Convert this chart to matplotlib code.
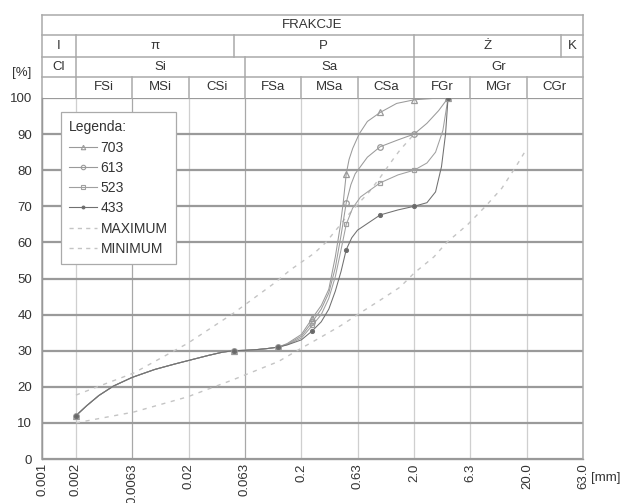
import matplotlib
matplotlib.use('Agg')
import matplotlib.pyplot as plt
from matplotlib.lines import Line2D
import numpy as np

plt.rcParams['font.family'] = ['Liberation Sans', 'DejaVu Sans']

#### Axis / header data ####
x_ticks = [0.001, 0.002, 0.0063, 0.02, 0.063, 0.2, 0.63, 2.0, 6.3, 20.0, 63.0]
x_labels = ['0.001', '0.002', '0.0063', '0.02', '0.063', '0.2', '0.63', '2.0', '6.3', '20.0', '63.0']
y_ticks = [0, 10, 20, 30, 40, 50, 60, 70, 80, 90, 100]

pl_edges = [0.001, 0.002, 0.05, 2.0, 40.0, 63.0]
pl_names = ['I', 'π', 'P', 'Ż', 'K']
iso_edges = [0.001, 0.002, 0.063, 2.0, 63.0]
iso_names = ['Cl', 'Si', 'Sa', 'Gr']
sub_names = ['', 'FSi', 'MSi', 'CSi', 'FSa', 'MSa', 'CSa', 'FGr', 'MGr', 'CGr']

#### Sieve results ####
sieve_d = [0.002, 0.05, 0.125, 0.25, 0.5, 1.0, 2.0, 4.0]
p703 = [12, 30, 31, 39, 79, 96, 99.5, 100]
p613 = [12, 30, 31, 38, 71, 86.5, 90, 100]
p523 = [12, 30, 31, 37, 65, 76.5, 80, 100]
p433 = [12, 30, 31, 35.5, 58, 67.6, 70, 100]

#### Curve traces ####
fine_d = [0.002, 0.0025, 0.0032, 0.0043, 0.0063, 0.01, 0.015, 0.02, 0.03, 0.04, 0.05, 0.063, 0.08, 0.1, 0.125]
fine_p = [12, 14.8, 17.6, 20.2, 22.6, 24.8, 26.3, 27.3, 28.7, 29.6, 30, 30.1, 30.3, 30.6, 31]

t703_d = [0.15, 0.2, 0.25, 0.3, 0.35, 0.4, 0.44, 0.47, 0.5, 0.53, 0.57, 0.65, 0.77, 1.0, 1.4, 2.0, 3.0, 4.0]
t703_p = [32, 34.5, 39, 42.5, 47, 56, 64, 71, 79, 83, 86, 90, 93.5, 96, 98.5, 99.5, 99.9, 100]
t613_d = [0.15, 0.2, 0.25, 0.3, 0.35, 0.4, 0.45, 0.5, 0.55, 0.6, 0.77, 1.0, 1.44, 2.0, 2.6, 3.3, 4.0]
t613_p = [31.8, 34, 38, 41.5, 46, 53, 62, 71, 76, 79, 83.6, 86.5, 88.4, 90, 93, 96.5, 100]
t523_d = [0.15, 0.2, 0.25, 0.3, 0.35, 0.4, 0.45, 0.5, 0.57, 0.67, 1.0, 1.44, 2.0, 2.6, 3.1, 3.6, 4.0]
t523_p = [31.7, 33.5, 37, 40, 44.5, 50.5, 58, 65, 69.5, 72.6, 76.5, 78.7, 80, 82, 85, 91, 100]
t433_d = [0.15, 0.2, 0.25, 0.3, 0.35, 0.4, 0.45, 0.5, 0.56, 0.63, 1.0, 1.44, 2.0, 2.6, 3.1, 3.5, 3.8, 4.0]
t433_p = [31.6, 33, 35.5, 38, 41.5, 46.5, 52, 58, 61.3, 63.4, 67.6, 69, 70, 71, 74, 81, 90, 100]

max_d = [0.002, 0.0031, 0.0065, 0.0195, 0.05, 0.115, 0.16, 0.26, 0.33, 0.42, 0.5, 0.63, 0.8, 1.0, 1.3, 1.5, 1.7, 2.0]
max_p = [17.7, 20, 23.8, 32, 40.4, 48.7, 52.4, 57, 60, 64, 67, 70.5, 74, 78, 83, 85.6, 87.5, 90]
min_d = [0.002, 0.0065, 0.0195, 0.05, 0.125, 0.2, 0.3, 0.45, 0.66, 1.0, 1.5, 2.0, 3.0, 3.9, 6.0, 8.6, 12, 16, 20]
min_p = [10, 13, 17.2, 22, 27, 30.7, 33.8, 37, 40.4, 44, 47.6, 51.5, 56, 60, 65, 70, 75, 81, 86]

samples = [
    ('703', t703_d, t703_p, p703, '^', 4.0, 'none', '#9a9a9a'),
    ('613', t613_d, t613_p, p613, 'o', 4.0, 'none', '#9a9a9a'),
    ('523', t523_d, t523_p, p523, 's', 3.2, 'none', '#a0a0a0'),
    ('433', t433_d, t433_p, p433, 'o', 2.8, '#666666', '#707070'),
]

txt = '#333333'
fs = 9.5
fs_leg = 10

#### Plot ####
fig = plt.figure(figsize=(6.26, 5.03), dpi=100)
ax = fig.add_axes([42 / 626, 1 - 459 / 503, 541 / 626, 361 / 503])
ax.set_xscale('log')
ax.set_xlim(0.001, 63.0)
ax.set_ylim(0, 100)

ax.set_xticks(x_ticks)
ax.set_xticklabels(x_labels, rotation=90, fontsize=fs, color=txt)
ax.minorticks_off()
ax.set_yticks(y_ticks)
ax.set_yticklabels([str(v) for v in y_ticks], fontsize=fs, color=txt)
ax.tick_params(axis='both', length=0)
ax.tick_params(axis='x', pad=3)
ax.tick_params(axis='y', pad=7)

ax.grid(axis='y', color='#9a9a9a', lw=1.6, zorder=0)
ax.grid(axis='x', color='#cfcfcf', lw=0.9, zorder=0)
for i, gl in enumerate(ax.get_xgridlines()):
    if x_ticks[i] in (0.0063, 0.063):
        gl.set_color('#a8a8a8')
ax.set_axisbelow(True)
for s in ['top', 'right']:
    ax.spines[s].set_visible(False)
for s in ['left', 'bottom']:
    ax.spines[s].set_color('#999999')
    ax.spines[s].set_linewidth(1.0)

# min / max envelopes
ax.plot(max_d, max_p, color='#c4c4c4', lw=1.0, ls=(0, (3, 4)), zorder=2)
ax.plot(min_d, min_p, color='#c4c4c4', lw=1.0, ls=(0, (3, 4)), zorder=2)

handles = []
for name, td, tp, pv, mk, ms, mfc, col in samples:
    ax.plot(fine_d + td, fine_p + tp, color=col, lw=0.75, zorder=3)
    ax.plot(sieve_d, pv, ls='none', marker=mk, ms=ms, mfc=mfc, mec=col,
            mew=0.9, zorder=4)
    handles.append(Line2D([], [], color=col, lw=0.8, marker=mk, ms=ms - 0.8,
                          mfc=mfc, mec=col, mew=0.8, label=name))
handles.append(Line2D([], [], color='#c4c4c4', lw=1.0, ls=(0, (3, 3)), label='MAXIMUM'))
handles.append(Line2D([], [], color='#c4c4c4', lw=1.0, ls=(0, (3, 3)), label='MINIMUM'))

leg = ax.legend(handles=handles, title='Legenda:', loc='upper left',
                bbox_to_anchor=(19 / 541, (459 - 112) / 361), borderaxespad=0,
                fontsize=fs_leg, title_fontsize=fs_leg, alignment='left',
                handlelength=2.0, handletextpad=0.25, labelspacing=0.45,
                borderpad=0.6, fancybox=False, framealpha=1, edgecolor='#aaaaaa')
for t in leg.get_texts():
    t.set_color(txt)
leg.get_title().set_color(txt)
leg.get_frame().set_linewidth(0.9)
leg.set_zorder(10)

#### Header table ####
tr = ax.get_xaxis_transform()
rows_y = [1.0, 1 + 21 / 361, 1 + 41 / 361, 1 + 63 / 361, 1 + 83 / 361]
line_kw = dict(transform=tr, clip_on=False, color='#aaaaaa', lw=1.1)
for yy in rows_y[1:]:
    ax.plot([x_ticks[0], x_ticks[-1]], [yy, yy], **line_kw)
ax.plot([x_ticks[0], x_ticks[0]], [0, rows_y[-1]], **line_kw)
ax.plot([x_ticks[-1], x_ticks[-1]], [0, rows_y[-1]], **line_kw)
for xv in x_ticks[1:-1]:
    ax.plot([xv, xv], [rows_y[0], rows_y[1]], **line_kw)
for xv in iso_edges[1:-1]:
    ax.plot([xv, xv], [rows_y[1], rows_y[2]], **line_kw)
for xv in pl_edges[1:-1]:
    ax.plot([xv, xv], [rows_y[2], rows_y[3]], **line_kw)


def mid(a, b):
    return np.sqrt(a * b)


for i, nm in enumerate(sub_names):
    ax.text(mid(x_ticks[i], x_ticks[i + 1]), (rows_y[0] + rows_y[1]) / 2, nm,
            transform=tr, ha='center', va='center', fontsize=fs, color=txt)
for i, nm in enumerate(iso_names):
    ax.text(mid(iso_edges[i], iso_edges[i + 1]), (rows_y[1] + rows_y[2]) / 2, nm,
            transform=tr, ha='center', va='center', fontsize=fs, color=txt)
for i, nm in enumerate(pl_names):
    ax.text(mid(pl_edges[i], pl_edges[i + 1]), (rows_y[2] + rows_y[3]) / 2, nm,
            transform=tr, ha='center', va='center', fontsize=fs, color=txt)
ax.text(mid(x_ticks[0], x_ticks[-1]), (rows_y[3] + rows_y[4]) / 2, 'FRAKCJE',
        transform=tr, ha='center', va='center', fontsize=fs, color=txt)

ax.text(-20 / 541, (459 - 73) / 361, '[%]', transform=ax.transAxes,
        ha='center', va='center', fontsize=fs, color=txt)
ax.text(1 + 8 / 541, -19 / 361, '[mm]', transform=ax.transAxes,
        ha='left', va='center', fontsize=fs, color=txt)

fig.savefig('out.png', dpi=100, facecolor='white')
